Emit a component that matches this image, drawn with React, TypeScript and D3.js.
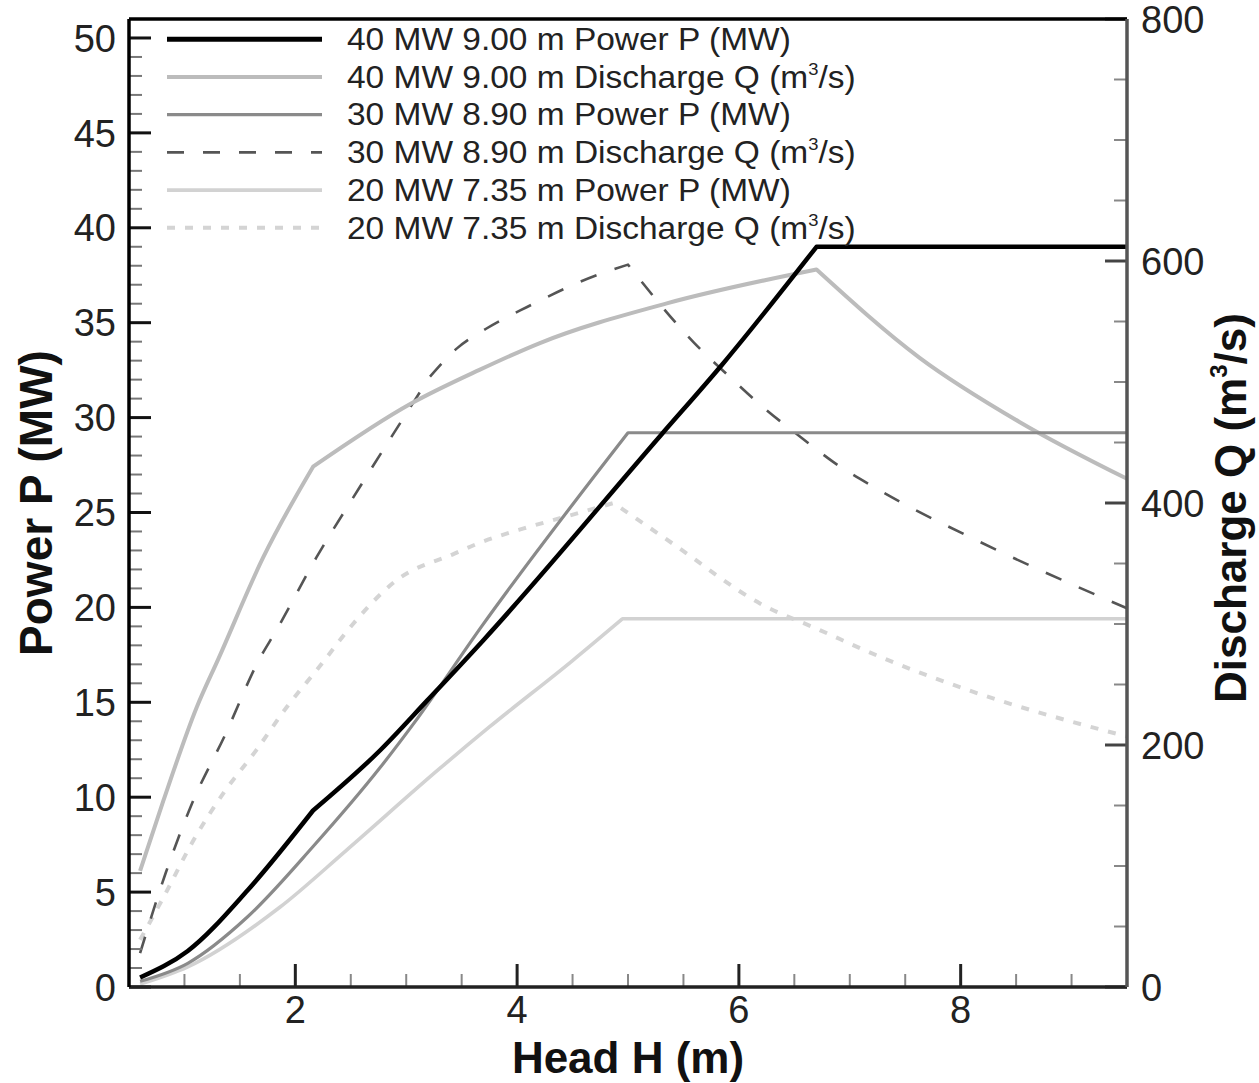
import React from "react";
import * as d3 from "d3";

// ---------- data ----------
const headP40 = [0.6, 1.03, 1.57, 2.16, 2.77, 3.19, 3.7, 5.3, 5.85, 6.7, 9.5];
const power40 = [0.5, 1.9, 5.1, 9.3, 12.5, 15.1, 18.3, 29.1, 32.8, 39.0, 39.0];
const kinksP40 = [3, 9];

const headQ40 = [0.6, 0.81, 1.11, 1.31, 1.71, 2.16, 3.04, 3.66, 4.2, 5.35, 6.7, 7.63, 8.53, 9.5];
const discharge40 = [96, 154, 231, 272, 355, 430, 482, 510, 532, 565, 593, 520, 467, 420];
const kinksQ40 = [5, 10];

const headP30 = [0.6, 1.03, 1.57, 2.16, 2.77, 3.07, 3.68, 5.0, 9.5];
const power30 = [0.3, 1.25, 3.7, 7.4, 11.6, 13.9, 19.0, 29.2, 29.2];
const kinksP30 = [7];

const headQ30 = [0.6, 0.83, 1.07, 1.37, 1.67, 1.83, 2.19, 2.58, 2.98, 3.21, 3.46, 3.72, 4.09, 4.71, 5.0, 5.59, 5.92, 6.22, 6.55, 6.85, 7.22, 8.17, 9.5];
const discharge30 = [28, 94, 152, 209, 270, 295, 355, 413, 471, 504, 528, 544, 562, 588, 597, 533, 504, 479, 455, 434, 413, 368, 313];
const kinksQ30 = [9, 14];

const headP20 = [0.6, 1.03, 1.86, 2.46, 3.3, 3.75, 4.5, 4.95, 9.5];
const power20 = [0.15, 1.06, 4.2, 7.2, 11.5, 13.7, 17.2, 19.4, 19.4];
const kinksP20 = [7];

const headQ20 = [0.6, 0.81, 1.08, 1.35, 1.65, 1.92, 2.22, 2.52, 2.91, 3.43, 3.66, 4.06, 4.41, 4.87, 5.41, 6.19, 6.73, 7.27, 8.08, 9.5];
const discharge20 = [39, 74, 121, 160, 196, 231, 265, 300, 336, 358, 367, 379, 388, 400, 366, 317, 295, 273, 245, 207];
const kinksQ20 = [13];

const legendLabels = [
  ["40 MW 9.00 m Power P (MW)", "", ""],
  ["40 MW 9.00 m Discharge Q (m", "3", "/s)"],
  ["30 MW 8.90 m Power P (MW)", "", ""],
  ["30 MW 8.90 m Discharge Q (m", "3", "/s)"],
  ["20 MW 7.35 m Power P (MW)", "", ""],
  ["20 MW 7.35 m Discharge Q (m", "3", "/s)"],
];

const xTicks = [2, 4, 6, 8];
const pTicks = [0, 5, 10, 15, 20, 25, 30, 35, 40, 45, 50];
const qTicks = [0, 200, 400, 600, 800];

// ---------- layout ----------
const W = 1259;
const H = 1083;
const L = 129;
const R = 1127;
const T = 19;
const B = 987;
const FONT = "'Liberation Sans', Arial, Helvetica, sans-serif";

const x = d3.scaleLinear().domain([0.5, 9.5]).range([L, R]);
const yP = d3.scaleLinear().domain([0, 51]).range([B, T]);
const yQ = d3.scaleLinear().domain([0, 800]).range([B, T]);

type Series = {
  xs: number[];
  ys: number[];
  kinks: number[];
  axis: "P" | "Q";
  color: string;
  width: number;
  dash?: string;
};

// order matches legend
const series: Series[] = [
  { xs: headP40, ys: power40, kinks: kinksP40, axis: "P", color: "#000000", width: 4.5 },
  { xs: headQ40, ys: discharge40, kinks: kinksQ40, axis: "Q", color: "#bcbcbc", width: 4 },
  { xs: headP30, ys: power30, kinks: kinksP30, axis: "P", color: "#8a8a8a", width: 3.2 },
  { xs: headQ30, ys: discharge30, kinks: kinksQ30, axis: "Q", color: "#555555", width: 2.6, dash: "17 19" },
  { xs: headP20, ys: power20, kinks: kinksP20, axis: "P", color: "#d2d2d2", width: 3.6 },
  { xs: headQ20, ys: discharge20, kinks: kinksQ20, axis: "Q", color: "#d4d4d4", width: 4, dash: "8 10" },
];

const drawOrder = [5, 4, 3, 1, 2, 0];

// smooth pieces between kinks, joined into one path so dashes stay continuous
function pathFor(s: Series): string {
  const ys = s.axis === "P" ? yP : yQ;
  const pts: [number, number][] = s.xs.map((h, i) => [h, s.ys[i]]);
  const line = d3
    .line<[number, number]>()
    .x((d) => x(d[0]))
    .y((d) => ys(d[1]))
    .curve(d3.curveMonotoneX);
  const bounds = [0, ...s.kinks, pts.length - 1];
  let out = "";
  for (let k = 0; k < bounds.length - 1; k++) {
    const piece = pts.slice(bounds[k], bounds[k + 1] + 1);
    let d = line(piece) || "";
    if (k > 0) d = "L" + d.slice(1);
    out += d;
  }
  return out;
}

export default function App() {
  const pMinor = d3.range(1, 51).filter((v) => v % 5 !== 0);
  const qMinor = d3.range(50, 800, 50).filter((v) => v % 200 !== 0);
  const xMinor = d3.range(1, 9.01, 0.5).filter((v) => v % 2 !== 0);

  const legendY0 = 39.3;
  const legendDy = 37.7;

  return (
    <svg
      width={W}
      height={H}
      viewBox={`0 0 ${W} ${H}`}
      style={{ position: "absolute", left: 0, top: 0, background: "#fff" }}
      fontFamily={FONT}
    >
      <rect x={0} y={0} width={W} height={H} fill="#ffffff" />

      {/* data lines */}
      <g fill="none" strokeLinejoin="round">
        {drawOrder.map((i) => {
          const s = series[i];
          return (
            <path
              key={i}
              d={pathFor(s)}
              stroke={s.color}
              strokeWidth={s.width}
              strokeDasharray={s.dash}
              strokeLinecap="butt"
            />
          );
        })}
      </g>

      {/* legend */}
      <g>
        {legendLabels.map((lab, i) => {
          const s = series[i];
          const ly = legendY0 + i * legendDy;
          return (
            <g key={i}>
              <line
                x1={167}
                x2={322}
                y1={ly}
                y2={ly}
                stroke={s.color}
                strokeWidth={s.width + (i === 0 ? 0.5 : 0)}
                strokeDasharray={s.dash}
              />
              <g transform={`translate(347, ${ly + 10.7}) scale(1.08, 1)`}>
                <text x={0} y={0} fontSize={31} fill="#222">
                  {lab[0]}
                  {lab[1] ? (
                    <tspan fontSize={17} dy={-13}>
                      {lab[1]}
                    </tspan>
                  ) : null}
                  {lab[2] ? (
                    <tspan fontSize={31} dy={13}>
                      {lab[2]}
                    </tspan>
                  ) : null}
                </text>
              </g>
            </g>
          );
        })}
      </g>

      {/* left axis ticks */}
      <g>
        {pMinor.map((v) => (
          <line key={"pm" + v} x1={L} x2={L + 13} y1={yP(v)} y2={yP(v)} stroke="#777" strokeWidth={2} />
        ))}
        {pTicks.map((v) => (
          <line key={"pM" + v} x1={L} x2={L + 22} y1={yP(v)} y2={yP(v)} stroke="#111" strokeWidth={3} />
        ))}
        {pTicks.map((v) => (
          <text
            key={"pl" + v}
            x={116}
            y={yP(v)}
            dy="0.36em"
            textAnchor="end"
            fontSize={38}
            fill="#222"
          >
            {v}
          </text>
        ))}
      </g>

      {/* right axis ticks */}
      <g>
        {qMinor.map((v) => (
          <line key={"qm" + v} x1={R - 13} x2={R} y1={yQ(v)} y2={yQ(v)} stroke="#888" strokeWidth={2} />
        ))}
        {qTicks.map((v) => (
          <line key={"qM" + v} x1={R - 22} x2={R} y1={yQ(v)} y2={yQ(v)} stroke="#444" strokeWidth={3} />
        ))}
        {qTicks.map((v) => (
          <text
            key={"ql" + v}
            x={1141}
            y={yQ(v)}
            dy="0.36em"
            textAnchor="start"
            fontSize={38}
            fill="#222"
          >
            {v}
          </text>
        ))}
      </g>

      {/* bottom axis ticks */}
      <g>
        {xMinor.map((v) => (
          <line key={"xm" + v} x1={x(v)} x2={x(v)} y1={B} y2={B - 13} stroke="#888" strokeWidth={2} />
        ))}
        {xTicks.map((v) => (
          <line key={"xM" + v} x1={x(v)} x2={x(v)} y1={B} y2={B - 23} stroke="#222" strokeWidth={3} />
        ))}
        {xTicks.map((v) => (
          <text key={"xl" + v} x={x(v)} y={1023} textAnchor="middle" fontSize={38} fill="#222">
            {v}
          </text>
        ))}
      </g>

      {/* frame */}
      <line x1={L} x2={R} y1={T} y2={T} stroke="#000" strokeWidth={3.5} />
      <line x1={L} x2={R} y1={B} y2={B} stroke="#222" strokeWidth={3.5} />
      <line x1={L} x2={L} y1={T} y2={B} stroke="#000" strokeWidth={3.5} />
      <line x1={R} x2={R} y1={T} y2={B} stroke="#555" strokeWidth={3.5} />

      {/* axis titles */}
      <text x={628} y={1073} textAnchor="middle" fontSize={44} fontWeight="bold" fill="#111">
        Head H (m)
      </text>
      <text
        transform="translate(52, 503) rotate(-90)"
        textAnchor="middle"
        fontSize={46}
        fontWeight="bold"
        fill="#111"
      >
        Power P (MW)
      </text>
      <text
        transform="translate(1246, 508) rotate(-90)"
        textAnchor="middle"
        fontSize={44}
        fontWeight="bold"
        fill="#111"
      >
        Discharge Q (m
        <tspan fontSize={24} dy={-19}>
          3
        </tspan>
        <tspan dy={19}>/s)</tspan>
      </text>
    </svg>
  );
}
